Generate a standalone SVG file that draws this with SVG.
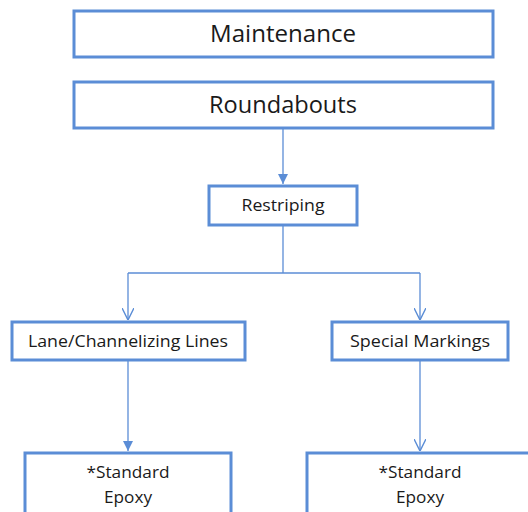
<svg xmlns="http://www.w3.org/2000/svg" width="528" height="512" viewBox="0 0 528 512">
<defs>
<style>
.box{fill:#fff;stroke:#5b8dd6;stroke-width:3}
.t{font-family:"Open Sans","Liberation Sans",sans-serif;fill:#1a1a1a;text-anchor:middle}
.big{font-size:23px}
.sm{font-size:17px}
.c{fill:none;stroke:#5b8dd6;stroke-width:1.3}
</style>
<marker id="fa" viewBox="0 0 10 10" refX="10" refY="5" markerWidth="10" markerHeight="10" markerUnits="userSpaceOnUse" orient="auto"><path d="M0,0 L10,5 L0,10 Z" fill="#5b8dd6"/></marker>
<marker id="oa" viewBox="0 0 10 10" refX="10" refY="5" markerWidth="12" markerHeight="12" markerUnits="userSpaceOnUse" orient="auto"><path d="M0,0 L10,5 L0,10" fill="none" stroke="#5b8dd6" stroke-width="1.2"/></marker>
</defs>
<rect width="528" height="512" fill="#fff"/>
<g id="connectors">
<path class="c" d="M283,128 V184" marker-end="url(#fa)"/>
<path class="c" d="M283,225 V273"/>
<path class="c" d="M128,273 H420"/>
<path class="c" d="M128,273 V320" marker-end="url(#oa)"/>
<path class="c" d="M420,273 V320" marker-end="url(#oa)"/>
<path class="c" d="M128,360 V451" marker-end="url(#fa)"/>
<path class="c" d="M420,360 V451" marker-end="url(#oa)"/>
</g>
<g id="maintenance"><rect class="box" x="74" y="11" width="419" height="46"/><text class="t big" x="283" y="42" textLength="146" lengthAdjust="spacingAndGlyphs">Maintenance</text></g>
<g id="roundabouts"><rect class="box" x="74" y="82" width="419" height="46"/><text class="t big" x="283" y="113" textLength="148" lengthAdjust="spacingAndGlyphs">Roundabouts</text></g>
<g id="restriping"><rect class="box" x="209" y="186" width="148" height="39"/><text class="t sm" x="283" y="211" textLength="83" lengthAdjust="spacingAndGlyphs">Restriping</text></g>
<g id="lane"><rect class="box" x="12" y="322" width="233" height="38"/><text class="t sm" x="128" y="347" textLength="200" lengthAdjust="spacingAndGlyphs">Lane/Channelizing Lines</text></g>
<g id="special"><rect class="box" x="332" y="322" width="176" height="38"/><text class="t sm" x="420" y="347" textLength="140" lengthAdjust="spacingAndGlyphs">Special Markings</text></g>
<g id="epoxy1"><rect class="box" x="25" y="453" width="206" height="70"/><text class="t sm" x="128" y="478" textLength="83" lengthAdjust="spacingAndGlyphs">*Standard</text><text class="t sm" x="128" y="503" textLength="48" lengthAdjust="spacingAndGlyphs">Epoxy</text></g>
<g id="epoxy2"><rect class="box" x="307" y="453" width="230" height="70"/><text class="t sm" x="420" y="478" textLength="83" lengthAdjust="spacingAndGlyphs">*Standard</text><text class="t sm" x="420" y="503" textLength="48" lengthAdjust="spacingAndGlyphs">Epoxy</text></g>
</svg>
